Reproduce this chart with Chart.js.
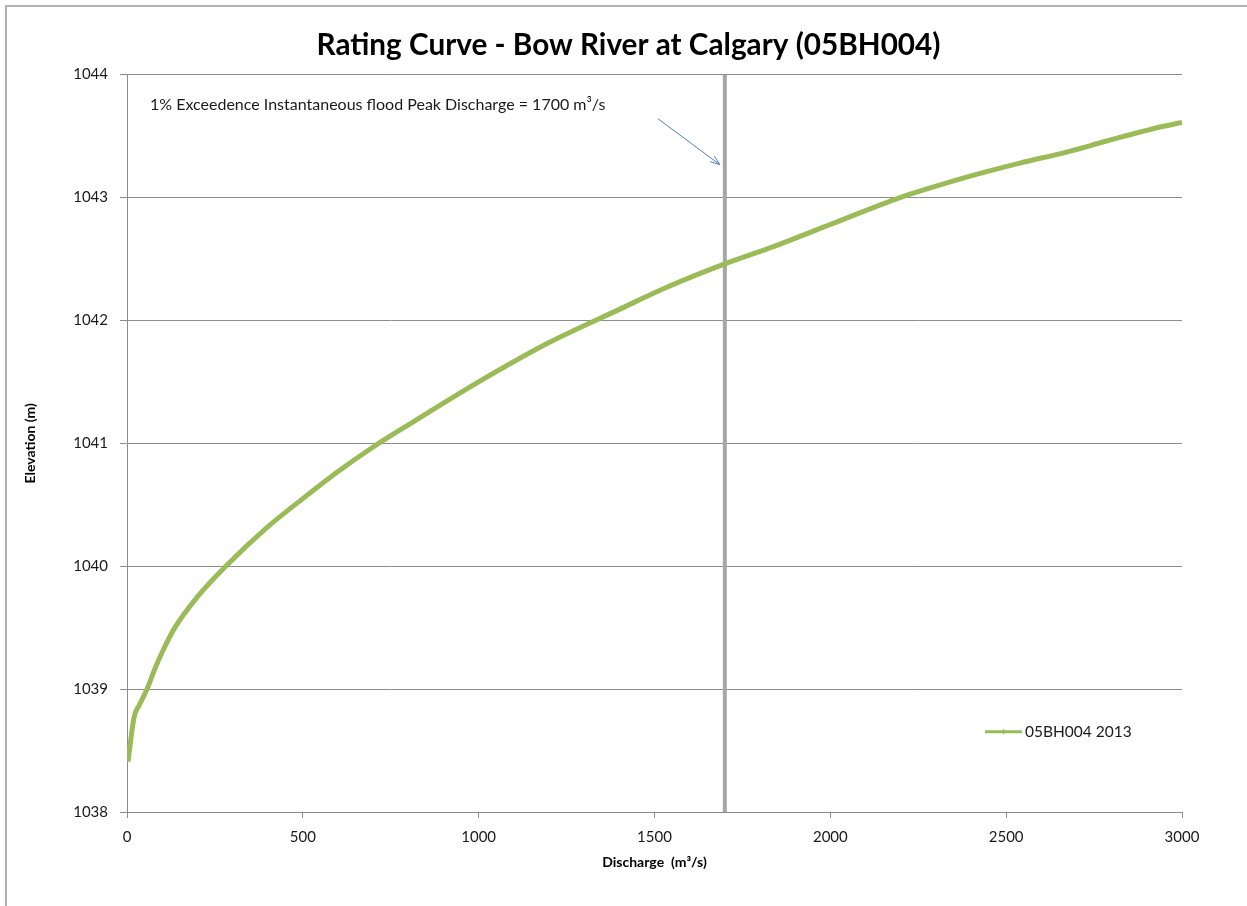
<!DOCTYPE html>
<html>
<head>
<meta charset="utf-8">
<title>Rating Curve - Bow River at Calgary (05BH004)</title>
<script src="https://cdn.jsdelivr.net/npm/chart.js"></script>
<style>
  html, body { margin: 0; padding: 0; background: #fff; overflow: hidden; }
  #frame {
    position: absolute; left: 5px; top: 5px;
    width: 1300px; height: 1000px;
    border-left: 2px solid #b3b3b3; border-top: 2px solid #b3b3b3;
  }
  #wrap { position: absolute; left: 0; top: 0; width: 1243px; height: 899px; }
</style>
</head>
<body>
<div id="frame"><div id="wrap"><canvas id="ratingChart"></canvas></div></div>
<script>
// rating curve: discharge (m3/s) and stage (m)
const discharge = [3, 20, 35, 57, 80, 100, 136, 200, 281, 400, 500, 600, 700, 800, 1000, 1200, 1400, 1535, 1700, 1828, 2008, 2198, 2275, 2405, 2539, 2672, 2786, 2918, 3000];
const elevation = [1038.41, 1038.77, 1038.87, 1039.0, 1039.17, 1039.3, 1039.5, 1039.75, 1040.0, 1040.32, 1040.55, 1040.77, 1040.97, 1041.15, 1041.5, 1041.82, 1042.09, 1042.27, 1042.46, 1042.59, 1042.79, 1043.0, 1043.07, 1043.18, 1043.28, 1043.37, 1043.46, 1043.56, 1043.61];

const seriesName = '05BH004 2013';
const floodQ = 1700;
const floodLine = [1038, 1044];
const xTicks = [0, 500, 1000, 1500, 2000, 2500, 3000];
const yTicks = [1038, 1039, 1040, 1041, 1042, 1043, 1044];
const noteText = '1% Exceedence Instantaneous flood Peak Discharge = 1700 m\u00b3/s';

const FONT = 'Lato, "Open Sans", sans-serif';
const GREEN = '#9bbb59';
const GRID = '#8c8c8c';

// annotation text + arrow, and the legend inside the plot
const extras = {
  id: 'extras',
  afterDraw(chart) {
    const ctx = chart.ctx;
    const a = chart.chartArea;
    const xs = chart.scales.x;
    ctx.save();
    ctx.fillStyle = '#1a1a1a';
    ctx.font = '16px ' + FONT;
    ctx.textBaseline = 'middle';
    ctx.textAlign = 'left';
    ctx.fillText(noteText, a.left + 23, a.top + 30);

    // arrow to the flood line
    const ex = xs.getPixelForValue(floodQ) - 5;
    const ey = a.top + 90;
    const sx = ex - 62, sy = ey - 46;
    ctx.strokeStyle = '#4f81bd';
    ctx.lineWidth = 1;
    ctx.beginPath();
    ctx.moveTo(sx, sy);
    ctx.lineTo(ex, ey);
    ctx.stroke();
    const ang = Math.atan2(ey - sy, ex - sx);
    ctx.beginPath();
    ctx.moveTo(ex - 10 * Math.cos(ang - 0.35), ey - 10 * Math.sin(ang - 0.35));
    ctx.lineTo(ex, ey);
    ctx.lineTo(ex - 10 * Math.cos(ang + 0.35), ey - 10 * Math.sin(ang + 0.35));
    ctx.stroke();

    // legend
    const lx = a.left + 858, ly = a.top + 657;
    ctx.strokeStyle = GREEN;
    ctx.lineWidth = 3;
    ctx.beginPath();
    ctx.moveTo(lx, ly);
    ctx.lineTo(lx + 37, ly);
    ctx.stroke();
    ctx.lineWidth = 1.5;
    ctx.beginPath();
    ctx.moveTo(lx + 18.5, ly - 2.5);
    ctx.lineTo(lx + 18.5, ly + 2.5);
    ctx.stroke();
    ctx.fillStyle = '#1a1a1a';
    ctx.font = '15.5px ' + FONT;
    ctx.fillText(seriesName, lx + 40, ly);
    ctx.restore();
  }
};

new Chart(document.getElementById('ratingChart'), {
  type: 'scatter',
  data: {
    datasets: [
      {
        label: 'flood',
        data: floodLine.map(y => ({ x: floodQ, y })),
        showLine: true,
        borderColor: '#a6a6a6',
        borderWidth: 4,
        pointRadius: 0,
        order: 2
      },
      {
        label: seriesName,
        data: discharge.map((q, i) => ({ x: q, y: elevation[i] })),
        showLine: true,
        borderColor: GREEN,
        backgroundColor: GREEN,
        borderWidth: 5,
        pointRadius: 0,
        cubicInterpolationMode: 'monotone',
        order: 1
      }
    ]
  },
  plugins: [extras],
  options: {
    responsive: true,
    maintainAspectRatio: false,
    animation: false,
    layout: { padding: { left: 0, right: 0, top: 0, bottom: 31 } },
    plugins: {
      legend: { display: false },
      tooltip: { enabled: false },
      title: {
        display: true,
        text: 'Rating Curve - Bow River at Calgary (05BH004)',
        color: '#000',
        font: { family: FONT, size: 29.7, weight: 'bold' },
        padding: { top: 21, bottom: 11 }
      }
    },
    scales: {
      x: {
        type: 'linear',
        min: 0, max: 3000,
        afterBuildTicks: s => { s.ticks = xTicks.map(v => ({ value: v })); },
        afterFit: s => { s.height = 63; },
        grid: { drawOnChartArea: false, drawTicks: true, tickLength: 6, color: GRID },
        border: { color: GRID, width: 1 },
        ticks: { color: '#1a1a1a', font: { family: FONT, size: 15 }, padding: 10, maxRotation: 0, autoSkip: false, callback: v => String(v) },
        title: {
          display: true,
          text: 'Discharge  (m\u00b3/s)',
          color: '#000',
          font: { family: FONT, size: 14, weight: 'bold' },
          padding: { top: 4, bottom: 4 }
        }
      },
      y: {
        type: 'linear',
        min: 1038, max: 1044,
        afterBuildTicks: s => { s.ticks = yTicks.map(v => ({ value: v })); },
        afterFit: s => { s.width = 120; },
        grid: { drawOnChartArea: true, drawTicks: true, tickLength: 7, color: GRID },
        border: { color: GRID, width: 1 },
        ticks: { color: '#1a1a1a', font: { family: FONT, size: 15 }, padding: 12, callback: v => String(v) },
        title: {
          display: true,
          text: 'Elevation (m)',
          color: '#000',
          font: { family: FONT, size: 14, weight: 'bold' },
          padding: { top: 15, bottom: 4 }
        }
      },
      // empty right-hand strip so the plot stops short of the frame while the title stays centred
      spacer: {
        type: 'linear',
        position: 'right',
        min: 0, max: 1,
        afterFit: s => { s.width = 68; },
        grid: { display: false },
        border: { display: false },
        ticks: { display: false }
      }
    }
  }
});
</script>
</body>
</html>
